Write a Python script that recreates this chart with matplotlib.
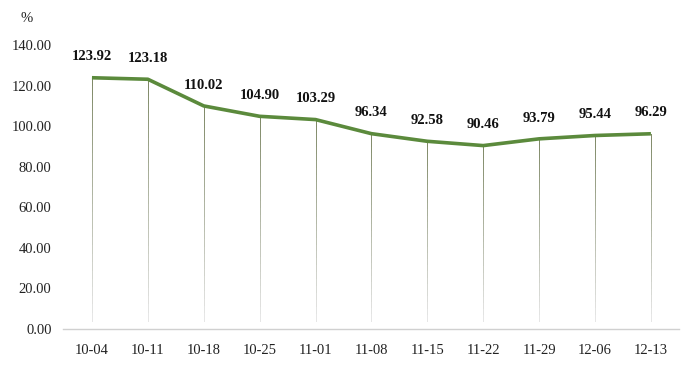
import numpy as np
import matplotlib
matplotlib.use("Agg")
import matplotlib.pyplot as plt
import matplotlib.colors as mcolors
from matplotlib.collections import LineCollection

dates = ["10-04", "10-11", "10-18", "10-25", "11-01", "11-08",
         "11-15", "11-22", "11-29", "12-06", "12-13"]
values = [123.92, 123.18, 110.02, 104.90, 103.29, 96.34,
          92.58, 90.46, 93.79, 95.44, 96.29]
yticks = [0, 20, 40, 60, 80, 100, 120, 140]

plt.rcParams["font.family"] = ["Liberation Serif", "DejaVu Serif"]

fig = plt.figure(figsize=(6.92, 3.67), dpi=100)
ax = fig.add_axes([0.0925, 0.1035, 0.8885, 0.7735])

x = np.arange(len(dates))

# drop lines fading from olive to light gray
top_c = np.array(mcolors.to_rgb("#808a68"))
bot_c = np.array(mcolors.to_rgb("#e6e6e6"))
segs, cols = [], []
for xi, v in zip(x, values):
    ys = np.linspace(v, 4, 30)
    for k in range(len(ys) - 1):
        segs.append([(xi, ys[k]), (xi, ys[k + 1])])
        t = k / (len(ys) - 2)
        cols.append(top_c * (1 - t) + bot_c * t)
ax.add_collection(LineCollection(segs, colors=cols, linewidths=0.6,
                                 capstyle="projecting", antialiaseds=False,
                                 zorder=1))

ax.plot(x, values, color="#5b8a3c", lw=2.6, solid_joinstyle="round",
        solid_capstyle="butt", zorder=3)

for xi, v in zip(x, values):
    ax.annotate(f"{v:.2f}", (xi, v), xytext=(0, 15), textcoords="offset points",
                ha="center", va="center", fontsize=10.5, fontweight="bold",
                color="#111111")

ax.set_xlim(-0.5, len(dates) - 0.5)
ax.set_ylim(0, 140)
ax.set_xticks(x)
ax.set_xticklabels(dates, fontsize=10.5, color="#222222")
ax.set_yticks(yticks)
ax.set_yticklabels([f"{t:.2f}" for t in yticks], fontsize=10.5, color="#222222")
ax.tick_params(length=0, pad=9)
ax.tick_params(axis="x", pad=11)

for s in ["top", "right", "left"]:
    ax.spines[s].set_visible(False)
ax.spines["bottom"].set_color("#d0d0d0")
ax.spines["bottom"].set_linewidth(1)
ax.spines["bottom"].set_bounds(-0.52, len(dates) - 0.5)

fig.text(27 / 692, 1 - 18 / 367, "%", fontsize=10.5, ha="center", va="center",
         color="#222222")

fig.savefig("out.png", dpi=100)
